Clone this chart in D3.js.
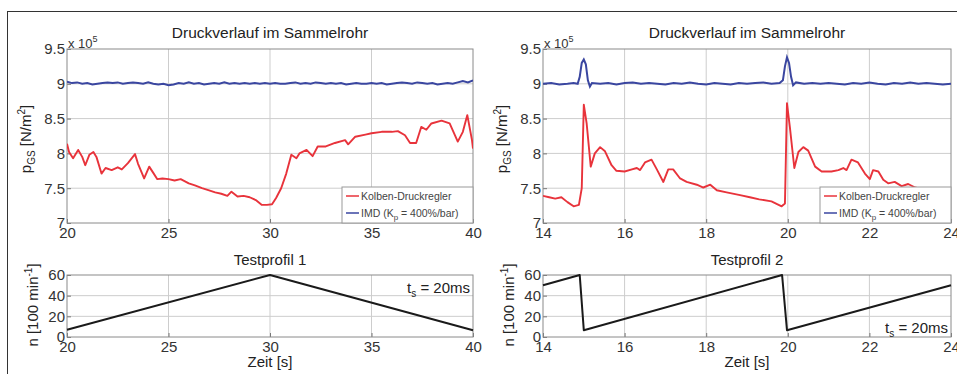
<!DOCTYPE html>
<html>
<head>
<meta charset="utf-8">
<script src="https://cdn.jsdelivr.net/npm/d3@7"></script>
<style>
  body { margin: 0; background: #fff; }
  svg { font-family: "Liberation Sans", Arial, Helvetica, sans-serif; }
</style>
</head>
<body>
<svg id="chart" width="957" height="374"></svg>
<script>
// ---- data (pressure in 1e5 N/m^2, time in s) ----
var kolben1 = [[20.0,8.14],[20.1,8.02],[20.3,7.93],[20.55,8.05],[20.75,7.95],[20.9,7.83],[21.1,7.98],[21.3,8.02],
  [21.45,7.95],[21.7,7.71],[21.9,7.79],[22.2,7.76],[22.5,7.80],[22.7,7.77],[23.0,7.86],[23.35,7.99],[23.5,7.85],
  [23.8,7.64],[24.05,7.81],[24.25,7.72],[24.45,7.63],[24.7,7.64],[25.0,7.63],[25.3,7.61],[25.6,7.63],[26.0,7.57],
  [26.3,7.54],[26.65,7.50],[27.0,7.47],[27.3,7.44],[27.6,7.42],[27.9,7.39],[28.1,7.45],[28.4,7.38],[28.7,7.39],
  [29.0,7.37],[29.3,7.33],[29.6,7.26],[29.85,7.26],[30.1,7.27],[30.3,7.36],[30.55,7.50],[30.8,7.71],[31.05,7.98],
  [31.3,7.93],[31.45,8.00],[31.8,8.05],[32.1,7.96],[32.35,8.10],[32.75,8.10],[33.2,8.15],[33.7,8.19],[33.85,8.13],
  [34.2,8.24],[34.7,8.27],[35.0,8.29],[35.5,8.31],[36.0,8.31],[36.3,8.32],[36.65,8.26],[36.9,8.15],[37.2,8.15],
  [37.45,8.38],[37.7,8.34],[37.95,8.43],[38.45,8.47],[38.85,8.43],[39.25,8.17],[39.5,8.31],[39.72,8.55],
  [39.95,8.19],[40.0,8.07]];

var imd1 = [9.03,9.01,9.02,9.00,9.01,8.99,9.00,9.01,9.02,9.01,9.02,9.00,9.01,9.02,9.01,9.00,9.02,9.00,8.99,9.00,
  8.98,8.99,9.01,9.00,9.02,9.00,9.01,8.99,9.00,9.01,9.00,9.02,9.00,9.01,9.00,9.01,9.00,9.01,9.00,9.01,
  9.00,9.01,9.00,9.00,9.01,9.02,9.00,9.01,9.00,9.02,9.01,9.00,9.01,9.00,9.01,8.99,9.00,9.01,9.00,9.00,
  9.01,9.00,9.01,8.99,9.00,9.01,9.02,9.01,9.00,9.02,9.01,9.00,9.01,8.99,9.00,9.01,9.00,9.02,9.04,9.02,9.05];

var kolben2 = [[14.0,7.39],[14.15,7.37],[14.3,7.35],[14.45,7.37],[14.6,7.30],[14.75,7.24],[14.88,7.26],[14.95,7.50],
  [15.0,8.70],[15.07,8.43],[15.17,7.81],[15.27,8.00],[15.4,8.09],[15.52,8.03],[15.68,7.83],[15.8,7.75],[16.0,7.74],
  [16.18,7.77],[16.3,7.79],[16.38,7.76],[16.5,7.87],[16.66,7.91],[16.79,7.77],[16.95,7.59],[17.07,7.77],[17.19,7.77],
  [17.36,7.64],[17.52,7.59],[17.77,7.55],[17.93,7.51],[18.1,7.55],[18.26,7.47],[18.5,7.44],[18.83,7.40],[19.07,7.37],
  [19.3,7.34],[19.6,7.31],[19.85,7.24],[19.93,7.28],[19.98,8.72],[20.05,8.38],[20.16,7.79],[20.26,8.02],[20.38,8.09],
  [20.5,8.04],[20.67,7.81],[20.83,7.74],[21.07,7.74],[21.24,7.76],[21.36,7.79],[21.44,7.76],[21.56,7.91],[21.72,7.87],
  [21.89,7.71],[22.01,7.63],[22.09,7.76],[22.22,7.74],[22.34,7.62],[22.46,7.57],[22.62,7.59],[22.79,7.53],
  [22.95,7.56],[23.12,7.51],[23.4,7.47],[23.7,7.44],[24.0,7.42]];

var imd2 = [[14,9.00],[14.2,9.01],[14.4,8.99],[14.6,9.00],[14.75,9.01],[14.85,9.00],[14.9,9.10],[14.95,9.30],
  [15.0,9.35],[15.05,9.28],[15.1,9.05],[15.15,8.96],[15.2,9.01],[15.4,9.00],[15.6,9.01],[15.8,8.99],[16.0,9.01],
  [16.2,9.02],[16.4,9.00],[16.6,9.01],[16.8,9.00],[17.0,8.99],[17.2,9.01],[17.4,9.00],[17.6,9.02],[17.8,9.00],
  [18.0,8.99],[18.2,9.01],[18.4,9.00],[18.6,8.99],[18.8,9.01],[19.0,9.00],[19.2,9.01],[19.4,9.02],[19.6,9.00],
  [19.8,9.01],[19.88,9.05],[19.93,9.25],[19.98,9.38],[20.03,9.30],[20.08,9.10],[20.13,8.98],[20.2,9.02],[20.4,9.00],
  [20.6,9.01],[20.8,9.00],[21.0,9.01],[21.2,9.00],[21.4,8.99],[21.6,9.01],[21.8,9.00],[22.0,9.02],[22.2,9.00],
  [22.4,8.99],[22.6,9.01],[22.8,9.00],[23.0,9.02],[23.2,9.00],[23.4,9.01],[23.6,9.00],[23.8,8.99],[24.0,9.00]];

// speed profiles (100 min^-1)
var profil1 = [[20,7],[30,60],[40,6.5]];
var profil2 = [[14,50],[14.9,60],[15.0,6.6],[19.86,60],[19.98,6.6],[24,50]];

var pTicks = [7, 7.5, 8, 8.5, 9, 9.5];
var nTicks = [0, 20, 40, 60];
var xTicks1 = [20, 25, 30, 35, 40];
var xTicks2 = [14, 16, 18, 20, 22, 24];
var legendNames = ["Kolben-Druckregler", "IMD"];

var red = "#e8333b", blue = "#3a46a0";
var svg = d3.select("#chart");

// frame around the figure
svg.append("line").attr("x1", 7).attr("x2", 957).attr("y1", 11.5).attr("y2", 11.5).attr("stroke", "#333");
svg.append("line").attr("x1", 7.5).attr("x2", 7.5).attr("y1", 11).attr("y2", 374).attr("stroke", "#333");

function rich(sel, parts) {
  parts.forEach(function(p) {
    var t = sel.append("tspan").text(p[0]);
    if (p[1]) t.attr("dy", p[1]);
    if (p[2]) t.attr("font-size", p[2]);
  });
  return sel;
}

function axesBox(x, y, xt, yt, yfmt) {
  var g = svg.append("g");
  var X0 = x.range()[0], X1 = x.range()[1], Y0 = y.range()[0], Y1 = y.range()[1];
  g.selectAll(".gx").data(xt.slice(1, -1)).join("line")
    .attr("x1", d => x(d)).attr("x2", d => x(d)).attr("y1", Y0).attr("y2", Y1)
    .attr("stroke", "#cdcdcd");
  g.selectAll(".gy").data(yt.slice(1, -1)).join("line")
    .attr("x1", X0).attr("x2", X1).attr("y1", d => y(d)).attr("y2", d => y(d))
    .attr("stroke", "#cdcdcd");
  var ax = g.append("g").attr("transform", "translate(0," + Y0 + ")")
    .call(d3.axisBottom(x).tickValues(xt).tickSize(-4).tickPadding(4).tickFormat(d3.format("d")));
  var ay = g.append("g").attr("transform", "translate(" + X0 + ",0)")
    .call(d3.axisLeft(y).tickValues(yt).tickSize(-4).tickPadding(2).tickFormat(yfmt));
  [ax, ay].forEach(function(a) {
    a.select(".domain").remove();
    a.selectAll("line").attr("stroke", "#777");
    a.selectAll("text").attr("font-size", 15).attr("fill", "#333").attr("font-family", null);
  });
  g.append("rect").attr("x", X0).attr("y", Y1).attr("width", X1 - X0).attr("height", Y0 - Y1)
    .attr("fill", "none").attr("stroke", "#8a8a8a");
  return g;
}

function drawLine(data, x, y, color, w) {
  svg.append("path").datum(data)
    .attr("d", d3.line().x(d => x(d[0])).y(d => y(d[1])))
    .attr("fill", "none").attr("stroke", color).attr("stroke-width", w).attr("stroke-linejoin", "round");
}

function legend(x0, y0) {
  var g = svg.append("g");
  g.append("rect").attr("x", x0).attr("y", y0).attr("width", 131).attr("height", 36)
    .attr("fill", "#fff").attr("stroke", "#999");
  [red, blue].forEach(function(c, i) {
    var yy = y0 + 9 + i * 17;
    g.append("line").attr("x1", x0 + 4).attr("x2", x0 + 17).attr("y1", yy).attr("y2", yy)
      .attr("stroke", c).attr("stroke-width", 1.5);
  });
  g.append("text").attr("x", x0 + 19).attr("y", y0 + 13).attr("font-size", 10.5).attr("fill", "#444")
    .text(legendNames[0]);
  rich(g.append("text").attr("x", x0 + 19).attr("y", y0 + 30).attr("font-size", 10.5).attr("fill", "#444"),
    [[legendNames[1] + " (K"], ["p", 3, 8], [" = 400%/bar)", -3, 10.5]]);
}

function panel(o) {
  // pressure axes
  var x = d3.scaleLinear().domain(o.xdom).range([o.left, o.right]);
  var y = d3.scaleLinear().domain([7, 9.5]).range([223, 49]);
  axesBox(x, y, o.xt, pTicks, d => d3.format("")(d));
  svg.append("defs").append("clipPath").attr("id", "c" + o.id)
    .append("rect").attr("x", o.left).attr("y", 49).attr("width", o.right - o.left).attr("height", 174);
  var cg = svg.append("g").attr("clip-path", "url(#c" + o.id + ")");
  cg.append("path").datum(o.imd).attr("d", d3.line().x(d => x(d[0])).y(d => y(d[1])))
    .attr("fill", "none").attr("stroke", blue).attr("stroke-width", 2);
  cg.append("path").datum(o.kolben).attr("d", d3.line().x(d => x(d[0])).y(d => y(d[1])))
    .attr("fill", "none").attr("stroke", red).attr("stroke-width", 1.9).attr("stroke-linejoin", "round");
  legend(o.right - 131, 187);
  var cx = (o.left + o.right) / 2;
  svg.append("text").attr("x", cx).attr("y", 38).attr("text-anchor", "middle")
    .attr("font-size", 15.5).attr("fill", "#222").text("Druckverlauf im Sammelrohr");
  rich(svg.append("text").attr("x", o.left + 1).attr("y", 48).attr("font-size", 13).attr("fill", "#333"),
    [["x 10"], ["5", -6, 9]]);
  rich(svg.append("text").attr("transform", "translate(" + (o.left - 36) + ",139) rotate(-90)")
    .attr("text-anchor", "middle").attr("font-size", 15).attr("fill", "#222"),
    [["p"], ["GS", 4, 10], [" [N/m", -4, 15], ["2", -6, 10], ["]", 6, 15]]);

  // speed axes
  var yn = d3.scaleLinear().domain([0, 60]).range([337, 275]);
  axesBox(x, yn, o.xt, nTicks, d3.format("d"));
  drawLine(o.profil, x, yn, "#1a1a1a", 2);
  svg.append("text").attr("x", cx).attr("y", 265).attr("text-anchor", "middle")
    .attr("font-size", 15).attr("fill", "#222").text(o.profilName);
  svg.append("text").attr("x", cx).attr("y", 367).attr("text-anchor", "middle")
    .attr("font-size", 15).attr("fill", "#222").text("Zeit [s]");
  rich(svg.append("text").attr("transform", "translate(" + (o.left - 29) + ",305) rotate(-90)")
    .attr("text-anchor", "middle").attr("font-size", 15).attr("fill", "#222"),
    [["n [100 min"], ["-1", -6, 10], ["]", 6, 15]]);
  rich(svg.append("text").attr("x", o.right - 3).attr("y", o.tsY).attr("text-anchor", "end")
    .attr("font-size", 15).attr("fill", "#222"),
    [["t"], ["s", 4, 10], [" = 20ms", -4, 15]]);
}

panel({id: 1, xdom: [20, 40], left: 67, right: 473, xt: xTicks1, kolben: kolben1,
  imd: imd1.map((v, i) => [20 + i * 20 / (imd1.length - 1), v]),
  profil: profil1, profilName: "Testprofil 1", tsY: 293});
panel({id: 2, xdom: [14, 24], left: 543, right: 951, xt: xTicks2, kolben: kolben2, imd: imd2,
  profil: profil2, profilName: "Testprofil 2", tsY: 333});
</script>
</body>
</html>
